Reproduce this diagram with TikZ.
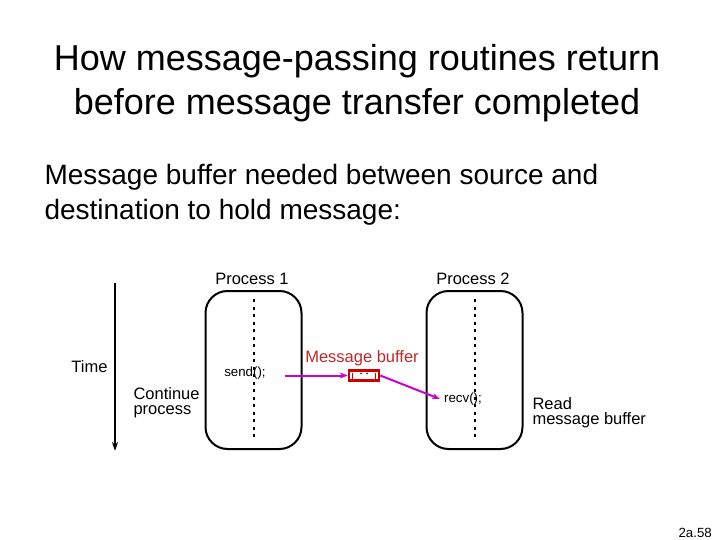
\documentclass[tikz,border=0pt]{standalone}
\usepackage{fontspec}
\setmainfont{Liberation Sans}
\usepackage{tikz}
\usepackage{xcolor}
\usetikzlibrary{arrows.meta, positioning, calc}

\definecolor{arrmag}{RGB}{204,0,204}
\definecolor{bufred}{RGB}{204,0,0}
\definecolor{lblred}{RGB}{190,40,40}

\begin{document}
\begin{tikzpicture}[
    x=1pt, y=-1pt,
    title/.style={align=center, font=\fontsize{36}{44}\selectfont},
    body/.style={align=left, anchor=west, font=\fontsize{28}{35}\selectfont},
    label/.style={align=left, font=\fontsize{16.5}{15}\selectfont},
    code/.style={font=\fontsize{13.3}{15}\selectfont, inner sep=1pt},
    procbox/.style={rectangle, draw=black, line width=2pt, rounded corners=22pt, minimum width=96pt, minimum height=158pt},
    thread/.style={draw=black, line width=2pt, dash pattern=on 3pt off 4.5pt},
    buffer/.style={rectangle, draw=bufred, line width=2.5pt, fill=white, minimum width=30pt, minimum height=10pt, inner sep=0pt},
    arrow/.style={-{Stealth[length=8pt, width=6pt]}, line width=2pt, draw=arrmag}
]
    \useasboundingbox (0,0) rectangle (720,540);

    % Heading
    \node[title] (head) at (357,83) {How message-passing routines return\\before message transfer completed};
    \node[body] (intro) at (41,195) {Message buffer needed between source and\\destination to hold message:};

    % Time axis
    \coordinate (ttop) at (115,283);
    \coordinate (tbot) at (115,451);
    \draw[-{Stealth[length=9pt, width=6pt]}, line width=2.8pt] (ttop) -- (tbot);
    \node[label, anchor=east] (time) at (111,367) {Time};
    \node[label, anchor=west, align=left] (cont) at (130,403) {Continue\\process};

    % Processes
    \node[procbox] (p1) at (253.5,370) {};
    \node[procbox] (p2) at (474.5,370) {};
    \node[label] (p1lbl) at (252,279) {Process 1};
    \node[label] (p2lbl) at (473,279) {Process 2};
    \draw[thread] ([yshift=-9pt]p1.north) -- ([yshift=11pt]p1.south);
    \draw[thread] ([yshift=-9pt]p2.north) -- ([yshift=11pt]p2.south);

    % Calls
    \node[code] (send) at (245,373) {send();};
    \node[code] (recv) at (463,399) {recv();};
    \node[label, anchor=west] (read) at (529,413) {Read\\message buffer};

    % Buffer
    \node[buffer] (buf) at (364,375.5) {};
    \node[label, text=lblred] (buflbl) at (362,358) {Message buffer};
    \fill[bufred] ($(buf.west)+(4,-3)$) rectangle ($(buf.west)+(5.5,3)$);
    \fill[bufred] ($(buf.east)+(-5.5,-3)$) rectangle ($(buf.east)+(-4,3)$);
    \fill[bufred] ($(buf.center)+(-3,-2)$) circle (1pt);
    \fill[bufred] ($(buf.center)+(3,-2)$) circle (1pt);

    % Flows
    \draw[arrow] ($(send.east |- buf.west)+(18,0)$) -- (buf.west);
    \draw[arrow] (buf.east) -- ([xshift=-3pt]recv.west);

    % Slide number
    \node[code, anchor=east] (slno) at (713,533) {2a.58};
\end{tikzpicture}
\end{document}
